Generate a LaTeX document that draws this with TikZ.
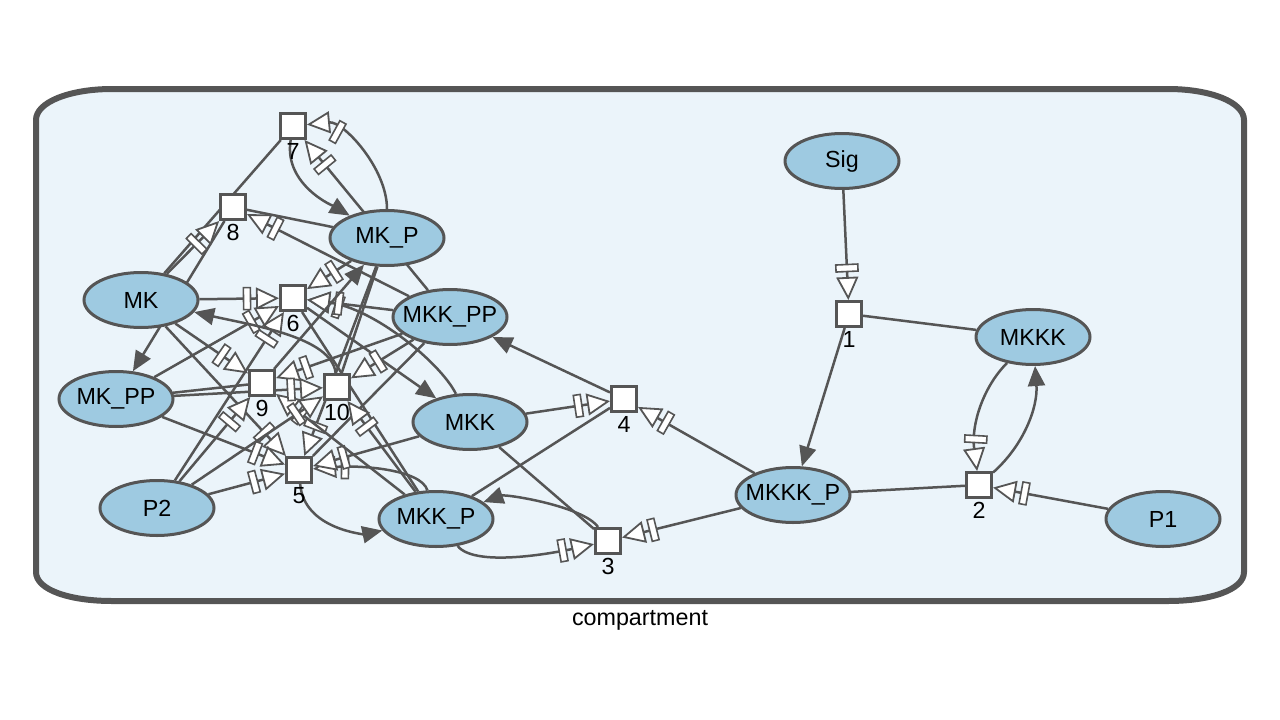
\documentclass[tikz,border=0pt]{standalone}
\usepackage{fontspec}
\setmainfont{Liberation Sans}
\usetikzlibrary{arrows.meta,shapes.geometric,decorations.markings}
\definecolor{edgec}{HTML}{555555}
\definecolor{compfill}{HTML}{EBF4FA}
\definecolor{specfill}{HTML}{9ECAE1}
\pgfdeclarelayer{bglayer}
\pgfdeclarelayer{edgelayer}
\pgfsetlayers{bglayer,edgelayer,main}
\newcommand{\sname}[1]{\makebox[0pt]{#1}}
\tikzset{
  species/.style={ellipse, draw=edgec, fill=specfill, line width=3pt,
    minimum width=114pt, minimum height=55pt, inner sep=0pt,
    font=\fontsize{23.3}{27}\selectfont},
  proc/.style={rectangle, draw=edgec, fill=white, line width=3pt,
    minimum size=25pt, inner sep=0pt},
  plbl/.style={font=\fontsize{23.3}{27}\selectfont, inner sep=0pt, anchor=north},
  subl/.style={draw=edgec, line width=2.5pt},
  prodl/.style={subl, -{Triangle[length=20pt,width=17pt]}},
  modl/.style={subl, -{Triangle[fill=white,length=23pt,width=22pt,line width=1.8pt]},
    postaction={decorate, decoration={markings,
      mark=at position -32pt with {\node[draw=edgec, fill=white, line width=1.6pt,
        minimum width=7pt, minimum height=22pt, inner sep=0pt, transform shape]{};}}}},
  comptbox/.style={draw=edgec, fill=compfill, line width=6pt},
}
\begin{document}
\begin{tikzpicture}[x=1pt,y=-1pt]
\useasboundingbox (0,0) rectangle (1280,720);
\begin{pgfonlayer}{bglayer}
\draw[comptbox] (36,120) -- (36,572) .. controls (36,590) and (70,601) .. (112,601)
  -- (1168,601) .. controls (1210,601) and (1244,590) .. (1244,572)
  -- (1244,120) .. controls (1244,102) and (1210,89) .. (1168,89)
  -- (112,89) .. controls (70,89) and (36,102) .. (36,120) -- cycle;
\end{pgfonlayer}
\node[font=\fontsize{23.3}{27}\selectfont] (comptlbl) at (640,620) {compartment};

% species
\node[species] (Sig) at (842,161) {\sname{Sig}};
\node[species] (MKKK) at (1033,337) {\sname{MKKK}};
\node[species] (MKKKP) at (793,495) {\sname{MKKK\_P}};
\node[species] (P1) at (1163,519) {\sname{P1}};
\node[species] (MKP) at (387,238) {\sname{MK\_P}};
\node[species] (MKKPP) at (450,317) {\sname{MKK\_PP}};
\node[species] (MK) at (141,300) {\sname{MK}};
\node[species] (MKPP) at (116,399) {\sname{MK\_PP}};
\node[species] (MKK) at (470,422) {\sname{MKK}};
\node[species] (P2) at (157,508) {\sname{P2}};
\node[species] (MKKP) at (436,519) {\sname{MKK\_P}};

% processes
\node[proc] (r1) at (849,314) {};
\node[proc] (r2) at (979,485) {};
\node[proc] (r3) at (608,541) {};
\node[proc] (r4) at (624,399) {};
\node[proc] (r5) at (299,470) {};
\node[proc] (r6) at (293,298) {};
\node[proc] (r7) at (293,126) {};
\node[proc] (r8) at (233,207) {};
\node[proc] (r9) at (262,383) {};
\node[proc] (r10) at (337,387) {};
\foreach \n/\t in {r1/1,r2/2,r3/3,r4/4,r5/5,r6/6,r7/7,r8/8,r9/9,r10/10}
  \node[plbl] (\n lbl) at ([yshift=-3pt]\n.south) {\t};

\begin{pgfonlayer}{edgelayer}
% R1
\draw[subl] (MKKK) -- (r1);
\draw[prodl] (r1) -- (MKKKP);
\draw[modl] (Sig) -- (r1);
% R2
\draw[subl] (MKKKP) -- (r2);
\draw[prodl] (r2) .. controls +(45,-40) and +(5,70) .. (MKKK);
\draw[modl] (MKKK) .. controls +(-50,50) and +(-8,-60) .. (r2);
\draw[modl] (P1) -- (r2);
% R3
\draw[subl] (MKK) -- (r3);
\draw[prodl] (r3) .. controls +(-25,-35) and +(70,-25) .. (MKKP);
\draw[modl] (MKKP) .. controls +(40,50) and +(-45,10) .. (r3);
\draw[modl] (MKKKP) -- (r3);
% R4
\draw[subl] (MKKP) -- (r4);
\draw[prodl] (r4) -- (MKKPP);
\draw[modl] (MKK) -- (r4);
\draw[modl] (MKKKP) -- (r4);
% R5
\draw[subl] (MKKPP) -- (r5);
\draw[prodl] (r5) .. controls +(5,60) and +(-70,15) .. (MKKP);
\draw[modl] (MKKP) .. controls +(-15,-50) and +(60,-5) .. (r5);
\draw[modl] (MKK) -- (r5);
\draw[modl] (P2) -- (r5);
\draw[modl] (MK) -- (r5);
\draw[modl] (MKPP) -- (r5);
\draw[modl] (MKP) -- (r5);
% R6
\draw[subl] (MKKP) -- (r6);
\draw[prodl] (r6) -- (MKK);
\draw[modl] (MKK) .. controls +(-30,-60) and +(80,10) .. (r6);
\draw[modl] (MKKPP) -- (r6);
\draw[modl] (MKP) -- (r6);
\draw[modl] (MK) -- (r6);
\draw[modl] (P2) -- (r6);
\draw[modl] (MKPP) -- (r6);
% R7
\draw[subl] (MK) -- (r7);
\draw[prodl] (r7) .. controls +(-10,60) and +(-50,-30) .. (MKP);
\draw[modl] (MKP) .. controls +(0,-70) and +(50,-5) .. (r7);
\draw[modl] (MKKPP) -- (r7);
% R8
\draw[subl] (MKP) -- (r8);
\draw[prodl] (r8) -- (MKPP);
\draw[modl] (MK) -- (r8);
\draw[modl] (MKKPP) -- (r8);
% R9
\draw[subl] (MKPP) -- (r9);
\draw[prodl] (r9) -- (MKP);
\draw[modl] (MK) -- (r9);
\draw[modl] (P2) -- (r9);
\draw[modl] (MKKP) -- (r9);
\draw[modl] (MKKPP) -- (r9);
% R10
\draw[subl] (MKP) -- (r10);
\draw[prodl] (r10) .. controls +(-5,-50) and +(110,25) .. (MK);
\draw[modl] (MKPP) -- (r10);
\draw[modl] (P2) -- (r10);
\draw[modl] (MKKPP) -- (r10);
\draw[modl] (MKKP) -- (r10);
\end{pgfonlayer}
\end{tikzpicture}
\end{document}
